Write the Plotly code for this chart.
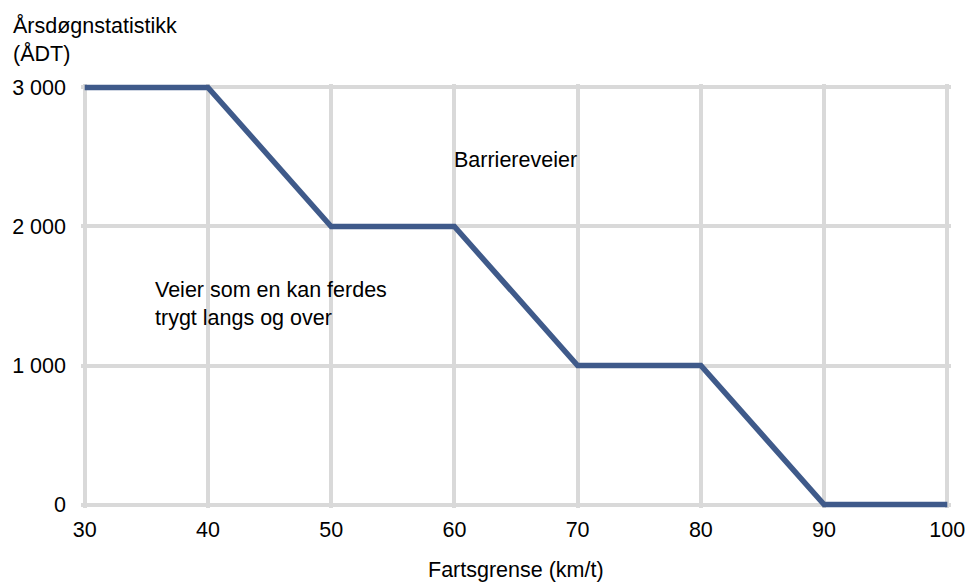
import plotly.graph_objects as go

speed = [30, 40, 50, 60, 70, 80, 90, 100]
adt = [3000, 3000, 2000, 2000, 1000, 1000, 0, 0]
x_ticks = [30, 40, 50, 60, 70, 80, 90, 100]
y_ticks = [0, 1000, 2000, 3000]
y_ticktext = ["0", "1 000", "2 000", "3 000"]

FONT = "Liberation Sans, Arial, sans-serif"
FS = 21.5

fig = go.Figure()
fig.add_trace(go.Scatter(
    x=speed, y=adt, mode="lines",
    line=dict(color="#3f5a8a", width=5.5),
    hoverinfo="skip", showlegend=False,
))

fig.update_layout(
    width=967, height=583,
    margin=dict(l=81, r=16, t=84, b=75),
    paper_bgcolor="white", plot_bgcolor="white",
    font=dict(family=FONT, size=FS, color="#000000"),
    showlegend=False,
    xaxis=dict(
        range=[29.7, 100.3], tickvals=x_ticks, ticktext=[str(v) for v in x_ticks],
        showgrid=True, gridcolor="#d9d9d9", gridwidth=3.5, automargin=False,
        zeroline=False, showline=False, ticks="", ticklabelstandoff=6,
        tickfont=dict(size=FS, color="#000000"),
    ),
    yaxis=dict(
        range=[-25, 3025], tickvals=y_ticks, ticktext=y_ticktext,
        showgrid=True, gridcolor="#d9d9d9", gridwidth=3.5, automargin=False,
        zeroline=False, showline=False, ticks="", ticklabelstandoff=14,
        tickfont=dict(size=FS, color="#000000"),
    ),
    annotations=[
        dict(text="Årsdøgnstatistikk<br>(ÅDT)", xref="paper", yref="paper",
             x=0, y=1, xanchor="left", yanchor="top", align="left",
             xshift=-70, yshift=72, showarrow=False, font=dict(size=FS)),
        dict(text="Fartsgrense (km/t)", xref="paper", yref="paper",
             x=0.5, y=0, xanchor="center", yanchor="middle",
             yshift=-62, showarrow=False, font=dict(size=FS)),
        dict(text="Barriereveier", x=64.92, y=2475, xanchor="center", yanchor="middle",
             showarrow=False, font=dict(size=FS)),
        dict(text="Veier som en kan ferdes<br>trygt langs og over", x=35.56, y=1446,
             xanchor="left", yanchor="middle", align="left",
             showarrow=False, font=dict(size=FS)),
    ],
)

fig.write_html("out.html", config={"displayModeBar": False},
               post_script="document.body.style.margin='0px';")
